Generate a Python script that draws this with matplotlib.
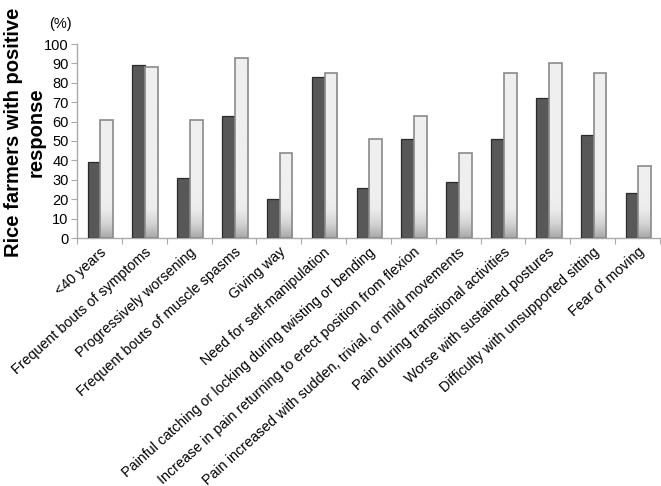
import numpy as np
import matplotlib
matplotlib.use("Agg")
import matplotlib.pyplot as plt
from matplotlib.colors import LinearSegmentedColormap

plt.rcParams['font.family'] = ['Liberation Sans', 'DejaVu Sans']

categories = [
    "<40 years",
    "Frequent bouts of symptoms",
    "Progressively worsening",
    "Frequent bouts of muscle spasms",
    "Giving way",
    "Need for self-manipulation",
    "Painful catching or locking during twisting or bending",
    "Increase in pain returning to erect position from flexion",
    "Pain increased with sudden, trivial, or mild movements",
    "Pain during transitional activities",
    "Worse with sustained postures",
    "Difficulty with unsupported sitting",
    "Fear of moving",
]
series_dark = [39, 89, 31, 63, 20, 83, 26, 51, 29, 51, 72, 53, 23]
series_light = [61, 88, 61, 93, 44, 85, 51, 63, 44, 85, 90, 85, 37]
yticks = [0, 10, 20, 30, 40, 50, 60, 70, 80, 90, 100]

fig = plt.figure(figsize=(6.61, 4.86), dpi=100)
ax = fig.add_axes([77/661, 1-238/486, 583/661, 194/486])

x = np.arange(len(categories))
w = 0.285
dark = ax.bar(x - w/2 + 0.02, series_dark, width=w, color='#585858',
              edgecolor='#2a2a2a', linewidth=0.9, zorder=3)
light = ax.bar(x + w/2 + 0.02, series_light, width=w, color='none',
               edgecolor='#8a8a8a', linewidth=1.2, zorder=4)

cmap = LinearSegmentedColormap.from_list('g', ['#a9a9a9', '#d4d4d4', '#ececec', '#efefef'])
for rect in light:
    x0 = rect.get_x()
    x1 = x0 + rect.get_width()
    h = rect.get_height()
    yy = np.linspace(0, h, 200)
    vals = np.clip(yy / 22.0, 0, 1)[::-1].reshape(-1, 1)
    im = ax.imshow(vals, extent=(x0, x1, 0, h), aspect='auto', cmap=cmap,
                   vmin=0, vmax=1, zorder=3.5, interpolation='bilinear')
    im.set_clip_path(rect)

ax.set_xlim(-0.5, len(categories) - 0.5)
ax.set_ylim(0, 100)
ax.set_yticks(yticks)
ax.set_yticklabels([str(t) for t in yticks], fontsize=10.5)
ax.set_xticks(np.arange(len(categories) + 1) - 0.5)
ax.set_xticklabels([])
ax.set_xticks(x, minor=True)
ax.set_xticklabels(categories, minor=True, rotation=42, ha='right',
                   rotation_mode='anchor', fontsize=10.3)
ax.tick_params(axis='x', which='minor', length=0, pad=5)
ax.tick_params(axis='x', which='major', length=4, color='#aaaaaa', direction='out')
ax.tick_params(axis='y', length=4, color='#aaaaaa', pad=2)

for s in ['top', 'right']:
    ax.spines[s].set_visible(False)
for s in ['left', 'bottom']:
    ax.spines[s].set_color('#aaaaaa')
    ax.spines[s].set_linewidth(1.0)

fig.text(60/661, 1-24/486, "(%)", ha='center', va='center', fontsize=10.5)
fig.text(25/661, 1-132/486, "Rice farmers with positive\nresponse", rotation=90,
         ha='center', va='center', fontsize=14.5, fontweight='bold',
         multialignment='center')

fig.savefig("out.png", dpi=100)
